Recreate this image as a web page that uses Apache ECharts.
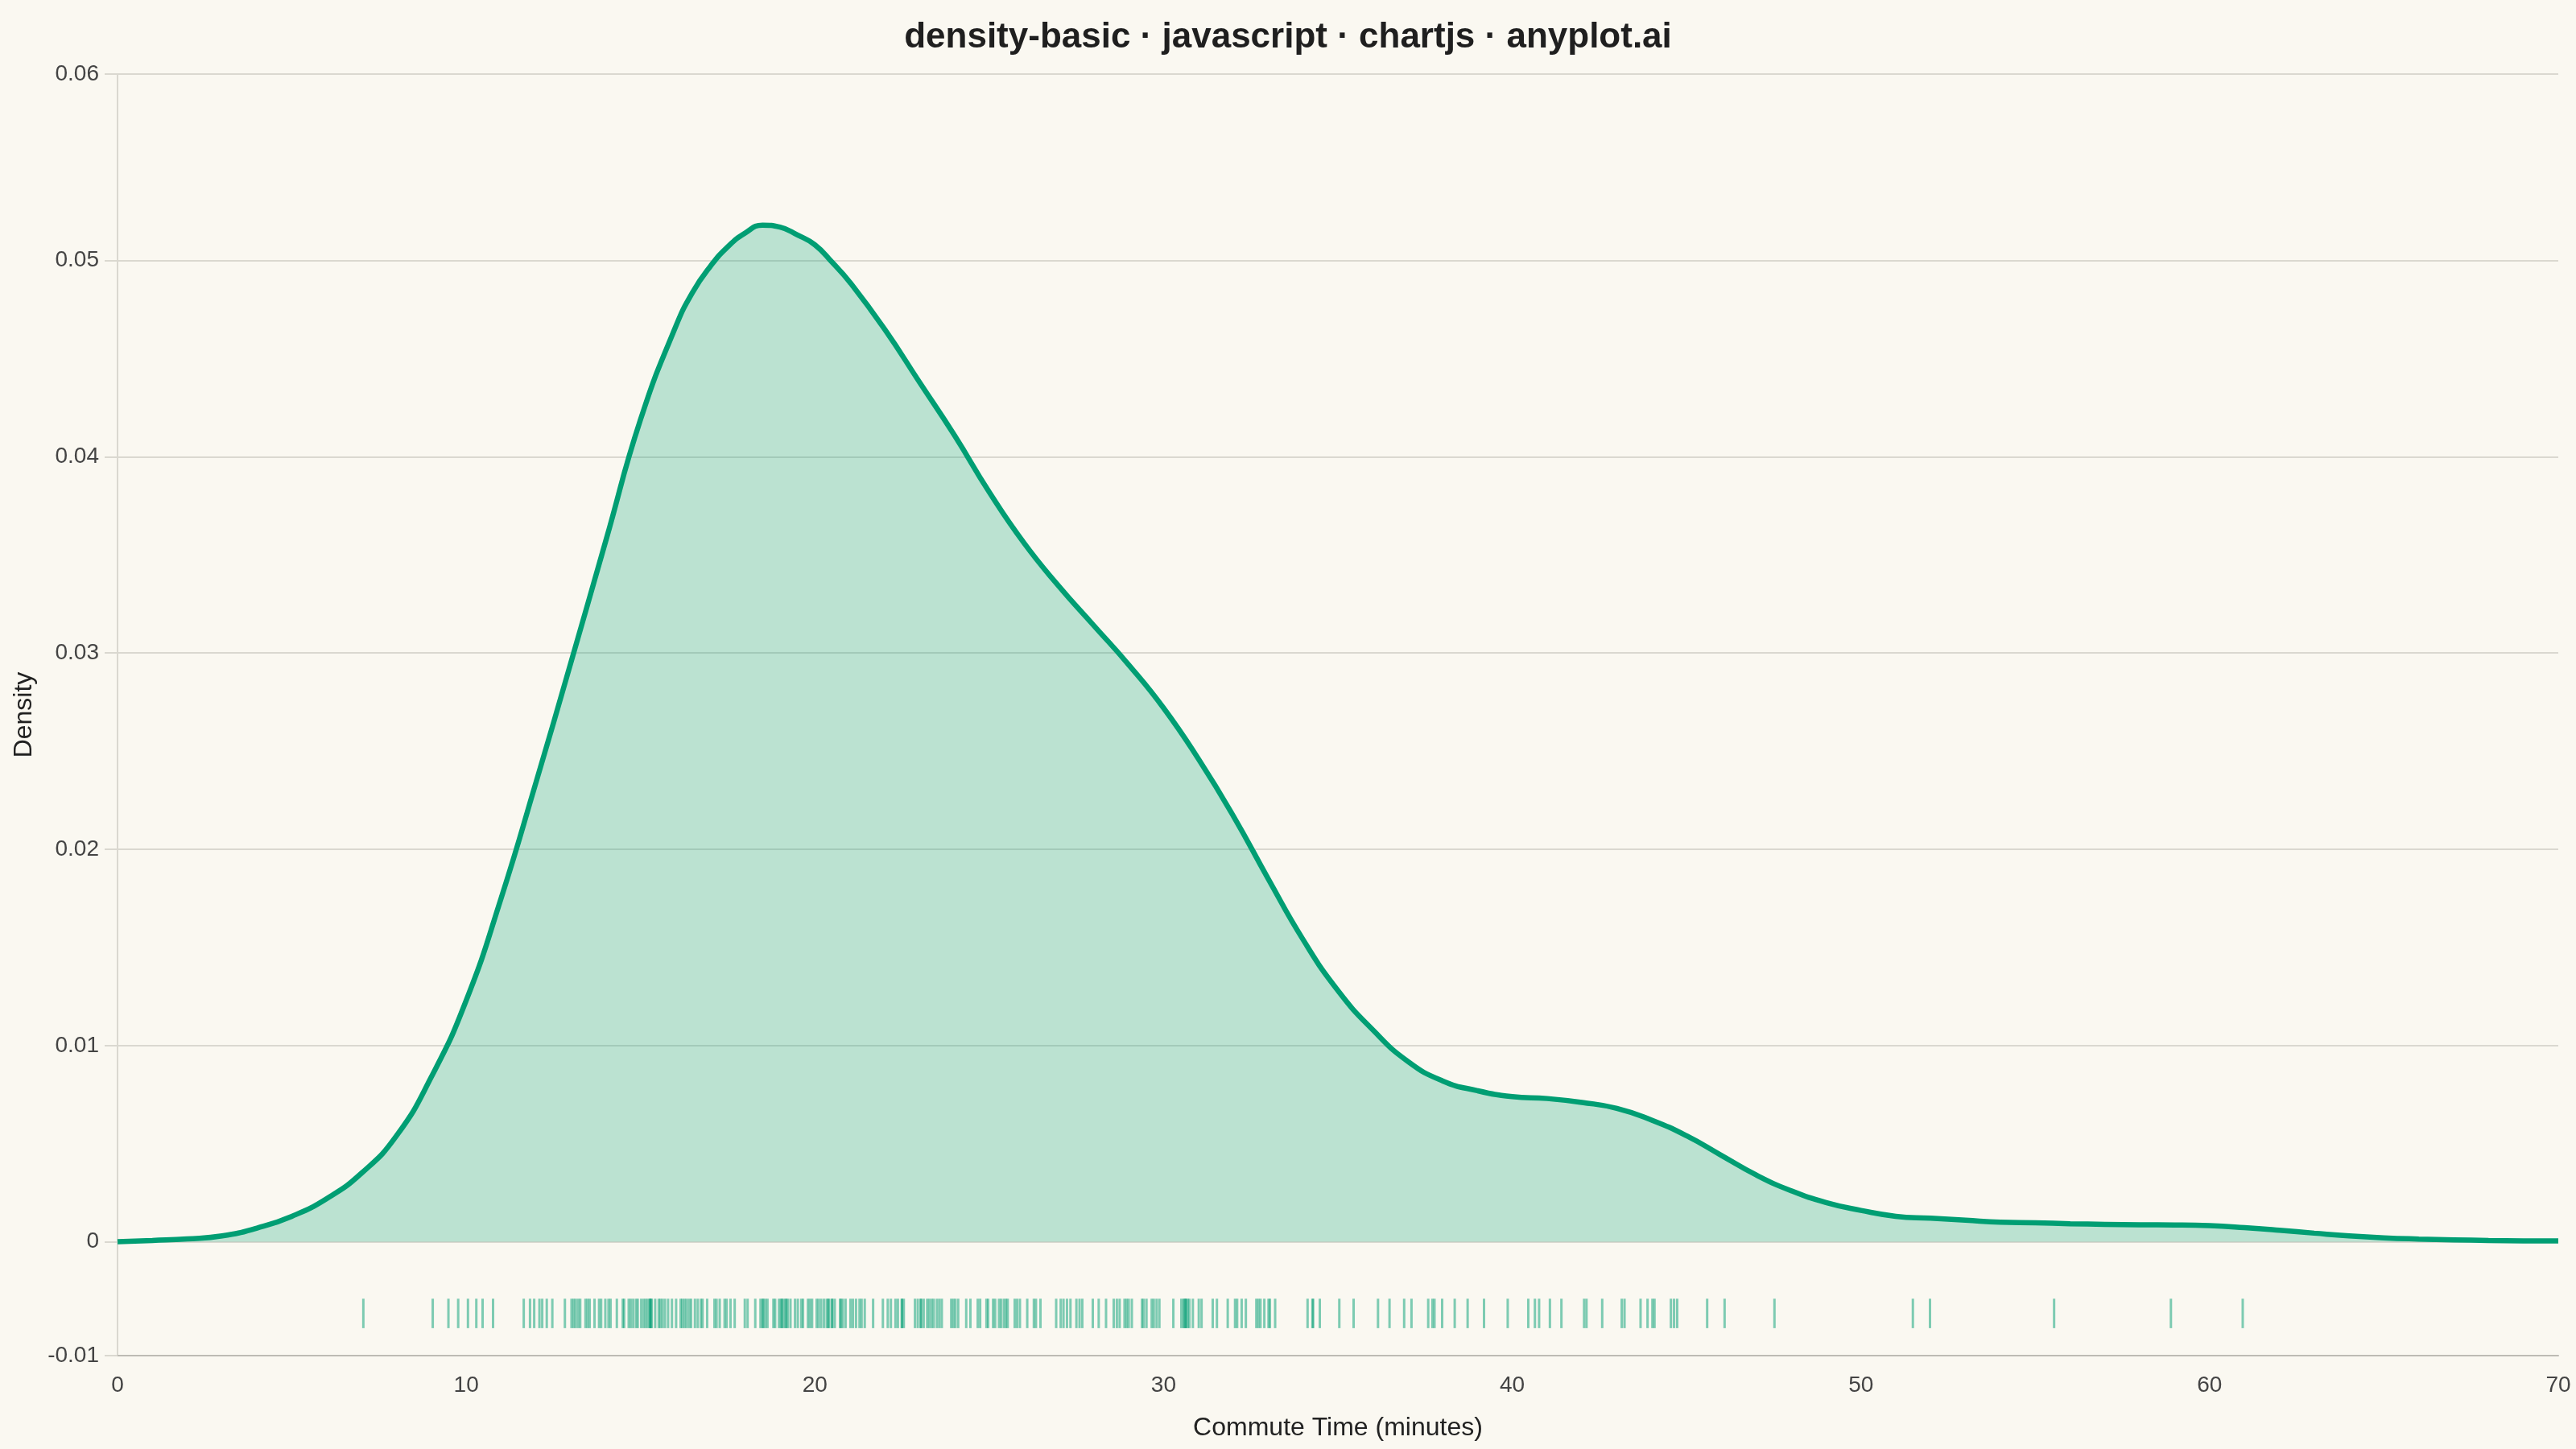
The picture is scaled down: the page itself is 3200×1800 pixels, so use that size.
<!DOCTYPE html>
<html>
<head>
<meta charset="utf-8">
<title>density-basic</title>
<script src="https://cdn.jsdelivr.net/npm/echarts@6/dist/echarts.min.js"></script>
<style>
    html, body { margin: 0; padding: 0; background: #FAF8F1; }
    #chart { width: 3200px; height: 1800px; }
</style>
</head>
<body>
<div id="chart"></div>
<script>
// density curve (minutes -> density), half steps round the peak
let curveX = [0, 1, 2, 3, 4, 5, 6, 7, 8, 9, 10, 11, 12, 13, 14, 15, 16, 16.5, 17, 17.5, 18, 18.5,
    19, 19.5, 20, 20.5, 21, 22, 23, 24, 25, 26, 27, 28, 29, 30, 31, 32, 33, 34, 35, 36, 37, 38,
    39, 40, 41, 42, 43, 44, 45, 46, 47, 48, 49, 50, 51, 52, 53, 54, 55, 56, 57, 58, 59, 60,
    61, 62, 63, 64, 65, 66, 67, 68, 69, 70];
let curveY = [0, 0.00007, 0.00015, 0.0003, 0.0007, 0.0013, 0.0022, 0.0035, 0.0054, 0.0084,
    0.0123, 0.0175, 0.0234, 0.0295, 0.0357, 0.0419, 0.0466, 0.0484, 0.0497, 0.0507, 0.0514, 0.0518,
    0.0517, 0.0513, 0.0508, 0.0499, 0.0489, 0.0465, 0.0438, 0.0411, 0.0382, 0.0356, 0.0334, 0.0314,
    0.0294, 0.0272, 0.0246, 0.0217, 0.0185, 0.0154, 0.0128, 0.0108, 0.0092, 0.0082,
    0.0077, 0.0074, 0.0073, 0.0071, 0.0068, 0.0062, 0.0054, 0.0044, 0.0034, 0.0026, 0.0020, 0.0016,
    0.0013, 0.0012, 0.0011, 0.0010, 0.00097, 0.00092, 0.00089, 0.00087, 0.00086, 0.00082,
    0.00072, 0.00059, 0.00044, 0.0003, 0.0002, 0.00014, 0.0001, 0.00007, 0.00005, 0.00004];

// individual commute times shown as the rug
let rugTimes = [7.05, 9.04, 9.49, 9.77, 10.05, 10.29, 10.47, 10.77, 11.65, 11.83, 11.95, 12.1, 12.18,
    12.31, 12.47, 12.83, 13.02, 13.08, 13.14, 13.21, 13.27, 13.42, 13.48, 13.54, 13.68, 13.81, 13.87,
    13.99, 14.08, 14.14, 14.32, 14.49, 14.53, 14.66, 14.72, 14.79, 14.87, 14.92, 15.02, 15.09, 15.15,
    15.21, 15.27, 15.27, 15.3, 15.32, 15.42, 15.52, 15.57, 15.63, 15.7, 15.79, 15.9, 16.02, 16.15, 16.2,
    16.26, 16.32, 16.39, 16.45, 16.56, 16.64, 16.73, 16.78, 16.91, 17.12, 17.18, 17.27, 17.41, 17.47,
    17.58, 17.7, 17.99, 18.07, 18.29, 18.44, 18.5, 18.52, 18.58, 18.64, 18.81, 18.86, 18.97, 19.03,
    19.05, 19.09, 19.15, 19.18, 19.22, 19.3, 19.43, 19.51, 19.61, 19.66, 19.8, 19.86, 19.92, 20.05,
    20.11, 20.18, 20.26, 20.34, 20.38, 20.41, 20.49, 20.5, 20.57, 20.72, 20.75, 20.8, 20.88, 21.02,
    21.09, 21.18, 21.28, 21.34, 21.43, 21.67, 21.95, 22.09, 22.18, 22.31, 22.38, 22.49, 22.5, 22.55,
    22.87, 22.95, 23.03, 23.05, 23.12, 23.22, 23.28, 23.35, 23.41, 23.5, 23.57, 23.64, 23.91, 23.97,
    24.03, 24.11, 24.34, 24.46, 24.67, 24.74, 24.92, 24.97, 25.11, 25.17, 25.28, 25.34, 25.42, 25.48,
    25.53, 25.73, 25.8, 25.88, 26.09, 26.28, 26.34, 26.47, 26.92, 27.05, 27.13, 27.23, 27.33, 27.5,
    27.59, 27.67, 27.97, 28.14, 28.35, 28.57, 28.66, 28.74, 28.88, 28.94, 29.0, 29.09, 29.38, 29.43,
    29.51, 29.66, 29.72, 29.8, 29.88, 30.28, 30.51, 30.57, 30.6, 30.63, 30.65, 30.69, 30.74, 30.84,
    31.01, 31.09, 31.41, 31.53, 31.84, 32.05, 32.11, 32.24, 32.36, 32.66, 32.72, 32.78, 32.89, 33.01,
    33.05, 33.2, 34.13, 34.27, 34.29, 34.48, 35.04, 35.45, 36.15, 36.48, 36.9, 37.11, 37.59, 37.71,
    37.77, 37.99, 38.35, 38.72, 39.19, 39.87, 40.46, 40.65, 40.77, 41.08, 41.41, 42.06, 42.13, 42.58,
    43.14, 43.22, 43.68, 43.88, 44.02, 44.08, 44.55, 44.64, 44.73, 45.59, 46.09, 47.52, 51.49, 51.98,
    55.54, 58.89, 60.95];

let xTicks = [0, 10, 20, 30, 40, 50, 60, 70];
// rug band sits below zero
let rugTop = -0.0029;
let rugBottom = -0.0044;

let green = '#009E73';
let gridColor = '#DAD8D0';

let chart = echarts.init(document.getElementById('chart'), null, {renderer: 'canvas'});

let option = {
    backgroundColor: '#FAF8F1',
    animation: false,
    textStyle: {fontFamily: 'Liberation Sans, Arial, sans-serif'},
    title: {
        text: 'density-basic · javascript · chartjs · anyplot.ai',
        left: 'center',
        top: 20,
        textStyle: {fontSize: 44, fontWeight: 'bold', color: '#1f1f1f', fontFamily: 'Liberation Sans, Arial, sans-serif'}
    },
    grid: {left: 146, right: 22, top: 92, bottom: 116},
    xAxis: {
        type: 'value',
        min: xTicks[0],
        max: xTicks[xTicks.length - 1],
        interval: 10,
        name: 'Commute Time (minutes)',
        nameLocation: 'middle',
        nameGap: 74,
        nameTextStyle: {fontSize: 32, color: '#222'},
        axisLine: {show: true, onZero: false, lineStyle: {color: '#BDBBB4', width: 2}},
        axisTick: {show: false},
        splitLine: {show: false},
        axisLabel: {fontSize: 28, color: '#444', margin: 23}
    },
    yAxis: {
        type: 'value',
        min: -0.0058,
        max: 0.0595,
        name: 'Density',
        nameLocation: 'middle',
        nameGap: 100,
        nameTextStyle: {fontSize: 32, color: '#222'},
        axisLine: {show: true, lineStyle: {color: gridColor, width: 2}},
        axisTick: {show: true, length: 16, lineStyle: {color: gridColor, width: 2}},
        splitLine: {show: true, lineStyle: {color: gridColor, width: 2}},
        axisLabel: {
            fontSize: 28,
            color: '#444',
            margin: 23,
            formatter: function (v) {
                return String(parseFloat((v + Math.sign(v) * 1e-9).toFixed(2)));
            }
        }
    },
    series: [
        {
            name: 'density',
            type: 'line',
            smooth: 0.5,
            showSymbol: false,
            data: curveX.map((x, i) => [x, curveY[i]]),
            lineStyle: {color: green, width: 6.5},
            areaStyle: {color: 'rgba(0, 158, 115, 0.25)', opacity: 1, origin: 0},
            z: 3
        },
        {
            name: 'rug',
            type: 'custom',
            data: rugTimes.map(t => [t]),
            renderItem: function (params, api) {
                let top = api.coord([api.value(0), rugTop]);
                let bottom = api.coord([api.value(0), rugBottom]);
                return {
                    type: 'line',
                    shape: {x1: top[0], y1: top[1], x2: bottom[0], y2: bottom[1]},
                    style: {stroke: 'rgba(0, 158, 115, 0.5)', lineWidth: 3}
                };
            },
            z: 2
        }
    ]
};

chart.setOption(option);
</script>
</body>
</html>
